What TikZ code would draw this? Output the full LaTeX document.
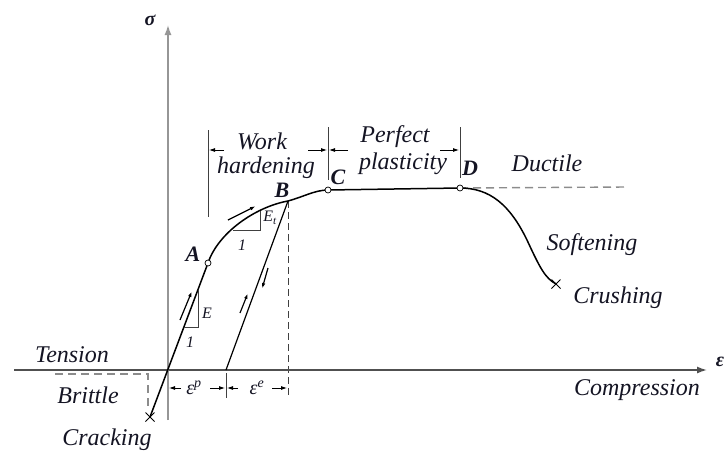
\documentclass[tikz,border=0pt]{standalone}
\usepackage{fontspec}
\setmainfont{Liberation Serif}
\usepackage{xcolor}
\usepackage{tikz}
\usetikzlibrary{arrows.meta,shapes.misc}
\definecolor{EjeOscuro}{RGB}{80,80,80}
\definecolor{EjeClaro}{RGB}{150,150,150}
\definecolor{GuiaGris}{RGB}{140,140,140}
\definecolor{TextoTinta}{RGB}{20,20,35}

\tikzset{
  lbl/.style={font=\fontsize{24}{26}\selectfont\itshape, inner sep=0pt, text=TextoTinta},
  pto/.style={font=\fontsize{22}{24}\selectfont\bfseries\itshape, inner sep=0pt, text=TextoTinta},
  chico/.style={font=\fontsize{16}{18}\selectfont\itshape, inner sep=0pt, text=TextoTinta},
  curva/.style={line width=1.5pt},
  guia/.style={GuiaGris, line width=1.4pt, dash pattern=on 8pt off 5pt},
  marca/.style={line width=0.9pt, black!75},
  cota/.style={-{Latex[length=6pt,width=4pt]}, line width=0.8pt},
  flecha/.style={-{Latex[length=6pt,width=3.5pt]}, line width=1.2pt},
  nudo/.style={circle, draw, fill=white, inner sep=0pt, minimum size=6pt, line width=0.7pt},
  rotura/.style={cross out, draw, inner sep=0pt, minimum size=8pt, line width=1pt},
}

\begin{document}
\begin{tikzpicture}[x=1pt,y=-1pt,>=Latex]
  \useasboundingbox (0,0) rectangle (724,453);
  % key points of the curve
  \coordinate (O) at (168,370);
  \coordinate (pA) at (208,263);
  \coordinate (pB) at (288,201);
  \coordinate (pC) at (328,190);
  \coordinate (pD) at (460,188);
  \coordinate (pS) at (527,240);
  \coordinate (pU) at (226,370);
  \coordinate (crk) at (150,417);
  \coordinate (crs) at (556,284);

  % dashed guides
  \draw[guia] (55,374) -- (148,374) -- (148,410);
  \draw[guia] (pD) -- (627,187);
  \draw[marca, dashed, dash pattern=on 7pt off 4pt] (pB) -- (288,398);

  % axes
  \draw[-{Latex[length=10pt,width=7pt]}, line width=1.4pt, EjeOscuro] (14,370) -- (707,370);
  \draw[-{Latex[length=10pt,width=7pt]}, line width=1.4pt, EjeClaro] (168,420) -- (168,25);
  \node[pto, font=\fontsize{20}{22}\selectfont\bfseries\itshape] (sig) at (150,20) {σ};
  \node[pto, font=\fontsize{20}{22}\selectfont\bfseries\itshape] (eps) at (720,362) {ε};

  % region marks on top
  \draw[marca] (208,130) -- (208,217);
  \draw[marca] (328,127) -- (328,180);
  \draw[marca] (460,127) -- (460,178);
  \draw[cota] (224,150) -- (209,150);
  \draw[cota] (308,150) -- (327,150);
  \draw[cota] (348,150) -- (329,150);
  \draw[cota] (440,150) -- (459,150);

  % strain marks at the bottom
  \draw[marca] (226,373) -- (226,398);
  \draw[cota] (181,388) -- (169,388);
  \draw[cota] (210,388) -- (225,388);
  \draw[cota] (238,388) -- (227,388);
  \draw[cota] (272,388) -- (287,388);

  % stress-strain curve
  \draw[curva] (crk) -- (pA)
    .. controls (218,233) and (255,207) .. (pB)
    .. controls (303,197) and (315,190) .. (pC) -- (pD)
    .. controls (490,188) and (510,205) .. (pS)
    .. controls (540,268) and (545,278) .. (crs);
  \draw[line width=1.2pt] (pB) -- (pU);

  % slope triangles
  \draw[marca, line width=0.8pt] (184,327) -- (198,327) -- (198,290);
  \draw[marca, line width=0.8pt] (233,230) -- (260,230) -- (260,211);
  \node[chico] (lE) at (207,313) {E};
  \node[chico] (l1a) at (190,342) {1};
  \node[chico] (lEt) at (270,218) {E\textsubscript{t}};
  \node[chico] (l1b) at (242,245) {1};

  % load and unload arrows
  \draw[flecha] (180,320) -- (192,291);
  \draw[flecha] (228,220) -- (256,206);
  \draw[flecha] (240,313) -- (248,293);
  \draw[flecha] (268,268) -- (262,289);

  % points
  \node[nudo] (cA) at (pA) {};
  \node[nudo] (cC) at (pC) {};
  \node[nudo] (cD) at (pD) {};
  \node[rotura] (xk) at (crk) {};
  \node[rotura] (xs) at (crs) {};

  % labels
  \node[pto] (tA) at (193,254) {A};
  \node[pto] (tB) at (282,190) {B};
  \node[pto] (tC) at (338,177) {C};
  \node[pto] (tD) at (470,168) {D};
  \node[lbl] (work) at (262,141) {Work};
  \node[lbl] (hard) at (266,168) {hardening};
  \node[lbl] (perf) at (395,137) {Perfect};
  \node[lbl] (plast) at (403,164) {plasticity};
  \node[lbl] (duct) at (547,163) {Ductile};
  \node[lbl] (soft) at (592,245) {Softening};
  \node[lbl] (crush) at (618,298) {Crushing};
  \node[lbl] (compr) at (637,390) {Compression};
  \node[lbl] (tens) at (72,355) {Tension};
  \node[lbl] (brit) at (88,395) {Brittle};
  \node[lbl] (crack) at (107,440) {Cracking};
  \node[lbl, font=\fontsize{20}{22}\selectfont\itshape] (ep) at (194,388) {ε\textsuperscript{p}};
  \node[lbl, font=\fontsize{20}{22}\selectfont\itshape] (ee) at (257,388) {ε\textsuperscript{e}};
\end{tikzpicture}
\end{document}
